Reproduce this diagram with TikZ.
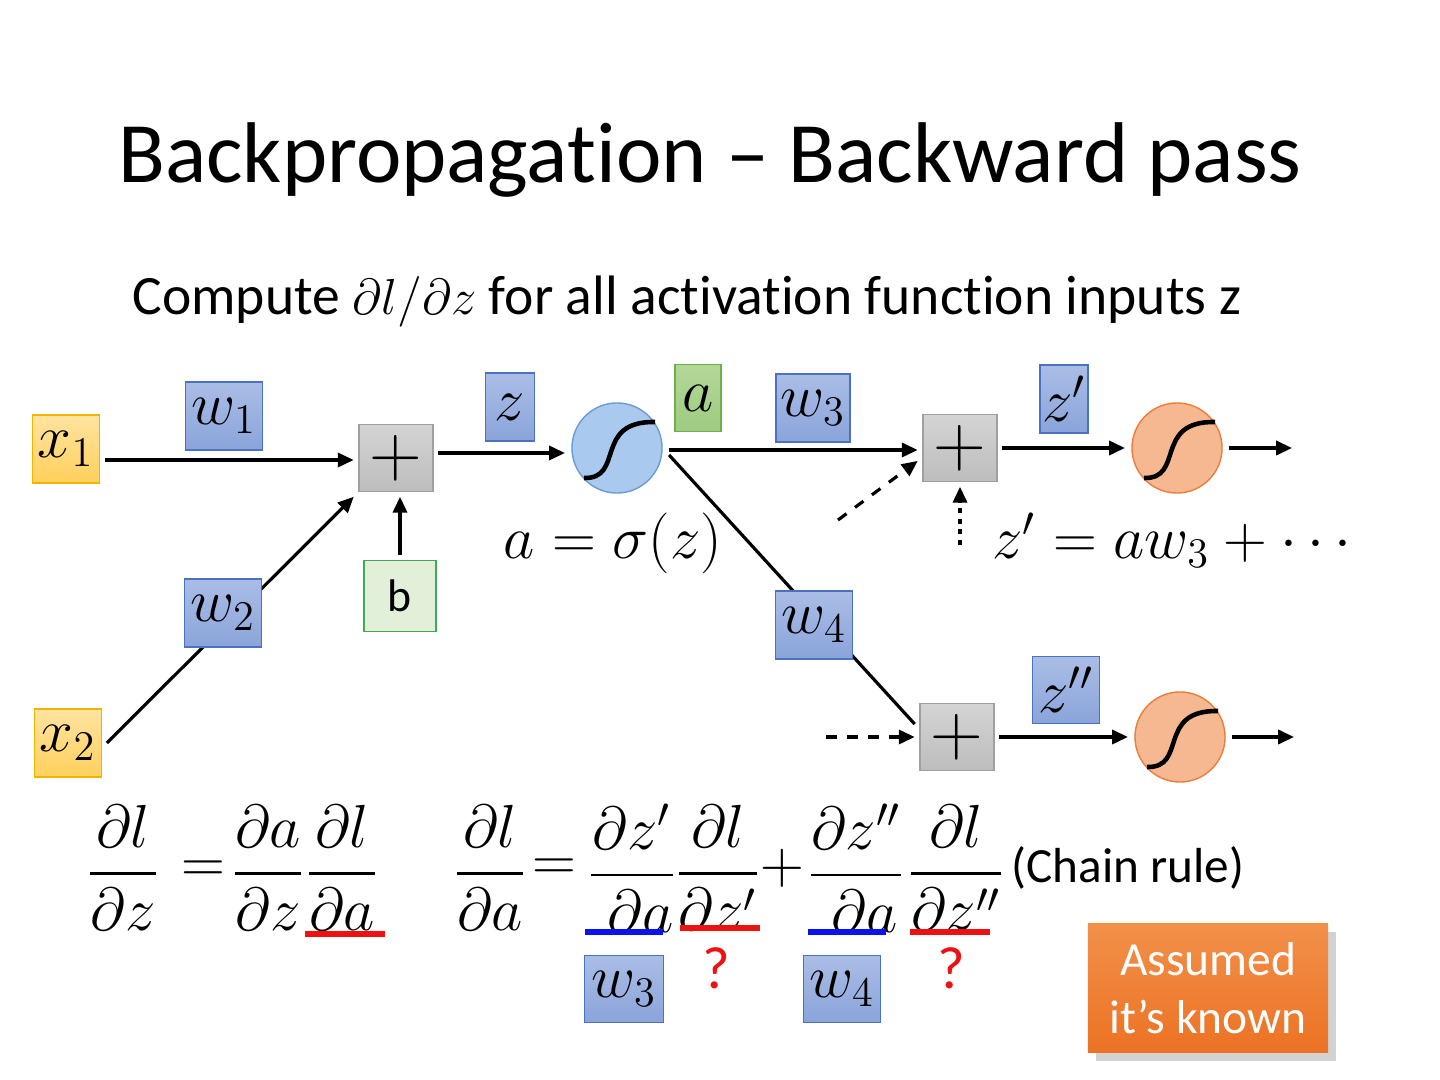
\documentclass[tikz,border=0pt]{standalone}
\usepackage{amsmath}
\usepackage{fontspec}
\setmainfont{Carlito}[Ligatures=NoCommon]
\usetikzlibrary{arrows.meta,shadows,backgrounds}
\definecolor{wtop}{HTML}{AABDE6}
\definecolor{wbot}{HTML}{8AA4DA}
\definecolor{wline}{HTML}{4A72C0}
\definecolor{xtop}{HTML}{FFE3A0}
\definecolor{xbot}{HTML}{FFD05C}
\definecolor{xline}{HTML}{F0B400}
\definecolor{ptop}{HTML}{D4D4D4}
\definecolor{pbot}{HTML}{BDBDBD}
\definecolor{pline}{HTML}{A0A0A0}
\definecolor{atop}{HTML}{B2D898}
\definecolor{abot}{HTML}{9FCB82}
\definecolor{aline}{HTML}{6FAE4A}
\definecolor{bfill}{HTML}{E2F0D9}
\definecolor{bline}{HTML}{3DAA5A}
\definecolor{stop}{HTML}{A9CAEE}
\definecolor{sline}{HTML}{6A9BD6}
\definecolor{otop}{HTML}{F6B890}
\definecolor{oline}{HTML}{EC7D3A}
\definecolor{ktop}{HTML}{F2904A}
\definecolor{kbot}{HTML}{EC7224}
\definecolor{qred}{HTML}{EE1111}
\definecolor{ublue}{HTML}{0B12F0}
\begin{document}
\begin{tikzpicture}[x=0.01cm,y=-0.01cm,
		mathfont/.style={font=\fontsize{18}{20}\selectfont},
		wbox/.style={draw=wline, top color=wtop, bottom color=wbot, minimum width=0.77cm, minimum height=0.68cm, inner sep=0pt, mathfont},
		xbox/.style={draw=xline, top color=xtop, bottom color=xbot, minimum width=0.67cm, minimum height=0.68cm, inner sep=0pt, outer sep=1.5pt, mathfont},
		plusbox/.style={draw=pline, top color=ptop, bottom color=pbot, minimum width=0.74cm, minimum height=0.67cm, inner sep=0pt, outer sep=1.5pt, font=\fontsize{22}{22}\selectfont},
		abox/.style={draw=aline, top color=atop, bottom color=abot, minimum width=0.46cm, minimum height=0.67cm, inner sep=0pt, mathfont},
		bbox/.style={draw=bline, fill=bfill, minimum width=0.72cm, minimum height=0.71cm, inner sep=0pt, outer sep=1.5pt, font=\fontsize{13}{15}\selectfont},
		sigblue/.style={circle, draw=sline, fill=stop, minimum size=0.9cm, inner sep=0pt, outer sep=2pt},
		sigorange/.style={circle, draw=oline, fill=otop, minimum size=0.9cm, inner sep=0pt, outer sep=2pt},
		scurve/.style={line width=1.3pt},
		arr/.style={-{Triangle[length=4.5pt,width=4pt]}, line width=0.9pt},
		frac/.style={inner sep=0pt, font=\fontsize{17}{20}\selectfont},
		redline/.style={qred, line width=1.5pt},
		blueline/.style={ublue, line width=1.5pt}]
	\useasboundingbox (0,0) rectangle (1440,1080);
	\node (title) at (710,160) {\fontsize{24.5}{28}\selectfont Backpropagation -- Backward pass};
	\node (sub) at (687,302) {\fontsize{15.8}{19}\selectfont Compute $\partial l/\partial z$ for all activation function inputs z};
	\node[xbox] (x1) at (66,449) {$x_1$};
	\node[xbox] (x2) at (68,743) {$x_2$};
	\node[wbox] (w1) at (224,416) {$w_1$};
	\node[wbox] (w2) at (223,613) {$w_2$};
	\node[plusbox] (p1) at (396,458) {$+$};
	\node[bbox] (b) at (400,596) {b};
	\node[wbox, minimum width=0.49cm] (z) at (510,407) {$z$};
	\node[sigblue] (s1) at (617,448) {};
	\node[abox] (a) at (698,398) {$a$};
	\node[mathfont] (eqa) at (613,543) {$a=\sigma(z)$};
	\node[wbox, minimum width=0.74cm] (w3) at (813,408) {$w_3$};
	\node[plusbox] (p2) at (960,448) {$+$};
	\node[wbox, minimum width=0.48cm] (zp) at (1064,399) {$z'$};
	\node[sigorange] (s2) at (1177,448) {};
	\node[mathfont] (eqz) at (1177,540) {$z'=aw_3+\cdots$};
	\node[wbox] (w4) at (814,625) {$w_4$};
	\node[plusbox] (p3) at (957,737) {$+$};
	\node[wbox, minimum width=0.67cm, minimum height=0.67cm] (zpp) at (1066,690) {$z''$};
	\node[sigorange] (s3) at (1180,737) {};
	\coordinate (o2) at (1292,448);
	\coordinate (o3) at (1294,737);
	\coordinate (d1) at (838,520);
	\coordinate (d2) at (826,737);
	\coordinate (dt) at (960,545);
	\foreach \s in {s1,s2,s3}{
		\draw[scurve] ([shift={(-33,30)}]\s.center) .. controls ([shift={(8,31)}]\s.center) and ([shift={(-24,-27)}]\s.center) .. ([shift={(38,-26)}]\s.center);
	}
	\begin{pgfonlayer}{background}
		\fill[white] (0,0) rectangle (1440,1080);
		\draw[arr] (x1.east |- 0,460) -- (p1.west |- 0,460);
		\draw[arr] (x2.east) -- (p1.south west);
		\draw[arr] (b.north) -- (b.north |- p1.south);
		\draw[arr] (p1.east |- 0,453) -- (s1.west |- 0,453);
		\draw[arr] (s1.east |- 0,450) -- (p2.west |- 0,450);
		\draw[line width=0.9pt] (s1.east |- 0,455) -- (p3.163);
		\draw[arr] (p2) -- (s2);
		\draw[arr] (s2) -- (o2);
		\draw[arr, dashed] (d1) -- (p2.197);
		\draw[arr, dash pattern=on 1.5pt off 1.5pt] (dt) -- (p2.south);
		\draw[arr, dashed] (d2) -- (p3);
		\draw[arr] (p3) -- (s3);
		\draw[arr] (s3) -- (o3);
	\end{pgfonlayer}
	\node[frac] (lz) at (123,868) {$\dfrac{\partial l}{\partial z}$};
	\node[frac] (e1) at (203,872) {$=$};
	\node[frac] (az) at (268,868) {$\dfrac{\partial a}{\partial z}$};
	\node[frac] (la) at (342,868) {$\dfrac{\partial l}{\partial a}$};
	\node[frac] (la2) at (490,868) {$\dfrac{\partial l}{\partial a}$};
	\node[frac] (e2) at (554,870) {$=$};
	\node[frac] (za1) at (632,868) {$\dfrac{\partial z'}{\;\partial a}$};
	\node[frac] (lz1) at (718,868) {$\dfrac{\partial l}{\partial z'}$};
	\node[frac] (pl) at (782,868) {$+$};
	\node[frac] (za2) at (856,868) {$\dfrac{\partial z''}{\;\partial a}$};
	\node[frac] (lz2) at (956,868) {$\dfrac{\partial l}{\partial z''}$};
	\node (chain) at (1128,868) {\fontsize{14}{16}\selectfont (Chain rule)};
	\draw[redline] (305,934) -- (385,934);
	\draw[blueline] (585,932) -- (663,932);
	\draw[redline] (680,928) -- (760,928);
	\draw[blueline] (808,932) -- (886,932);
	\draw[redline] (910,932) -- (990,932);
	\foreach \q\x in {q1/716,q2/951}{
		\node[qred] (\q) at (\x,968) {\fontsize{17}{19}\selectfont ?};
	}
	\node[wbox, minimum width=0.79cm, minimum height=0.67cm] (bw3) at (624,989) {$w_3$};
	\node[wbox, minimum width=0.77cm, minimum height=0.67cm] (bw4) at (842,989) {$w_4$};
	\node[top color=ktop, bottom color=kbot, drop shadow={opacity=0.35}, minimum width=2.4cm, minimum height=1.29cm, inner sep=0pt, align=center, text=white, font=\fontsize{13.5}{16.5}\selectfont] (known) at (1208,988) {Assumed\\it’s known};
\end{tikzpicture}
\end{document}
